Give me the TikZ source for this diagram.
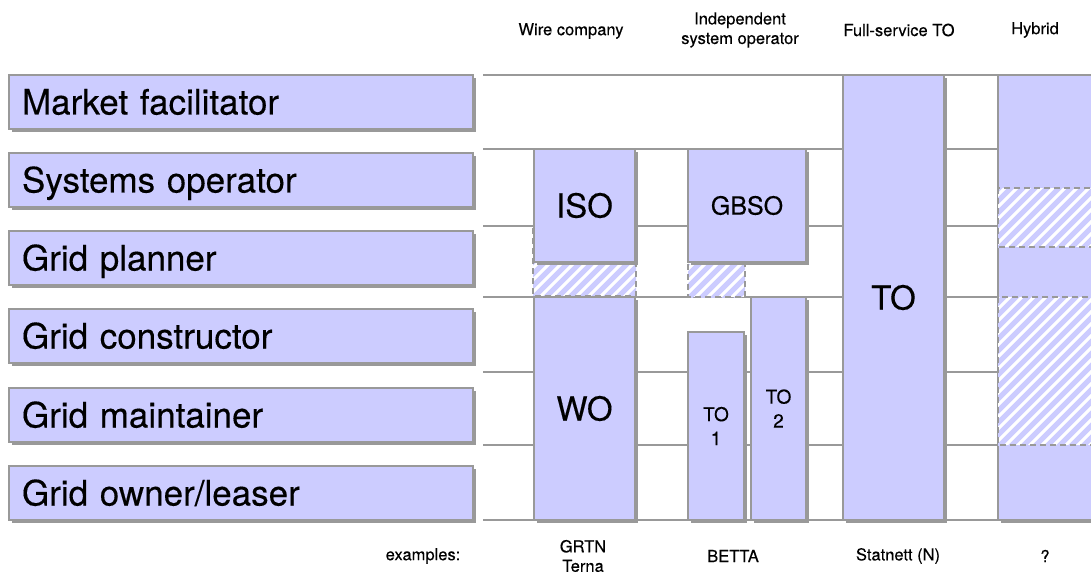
\documentclass[tikz,border=0pt]{standalone}
\usepackage{fontspec}
\setmainfont[FakeBold=0.3]{TeX Gyre Heros}
\usetikzlibrary{shadows}
\definecolor{lav}{HTML}{CCCCFF}
\definecolor{edge}{HTML}{999999}
% striped area with a dashed outline: \hatchbox{x1}{y1}{x2}{y2}
\newcommand\hatchbox[4]{%
  \begin{scope}
    \clip (#1,#2) rectangle (#3,#4);
    \fill[white] (#1,#2) rectangle (#3,#4);
    \foreach \k in {-260,-248,...,120}
      \draw[lav, line width=5pt] ({#1+\k},{#4+10}) -- ++(300,-300);
  \end{scope}
  \draw[edge, line width=1.8pt, dash pattern=on 6pt off 4pt] (#1,#2) rectangle (#3,#4);
}
\begin{document}
\begin{tikzpicture}[x=1pt,y=-1pt,
  box/.style={rectangle, fill=lav, draw=edge, line width=1.4pt, inner sep=0pt, outer sep=0pt,
    anchor=north west,
    drop shadow={shadow xshift=3pt, shadow yshift=-3pt, fill=edge, opacity=1}},
  role/.style={box, minimum width=464pt, minimum height=54pt, text width=438pt, align=left,
    font=\fontsize{35}{37}\selectfont, text height=25pt, text depth=0pt},
  grid/.style={draw=edge, line width=1.6pt},
  head/.style={font=\fontsize{16.5}{19.5}\selectfont, align=center},
  big/.style={font=\fontsize{33}{36}\selectfont},
  small/.style={font=\fontsize{19}{24}\selectfont, align=center},
]
\useasboundingbox (0,0) rectangle (1091,572);
\clip (0,0) rectangle (1091,572);

% horizontal separators of the role rows
\foreach \yy in {75,149,226,297,372,445,520}
  \draw[grid] (483,\yy) -- (1091,\yy);

% role labels
\node[role] (mf) at (9,75)  {Market facilitator};
\node[role] (so) at (9,153) {Systems operator};
\node[role] (gp) at (9,231) {Grid planner};
\node[role] (gc) at (9,309) {Grid constructor};
\node[role] (gm) at (9,388) {Grid maintainer};
\node[role] (go) at (9,466) {Grid owner/leaser};

% column headings
\node[head] (h1) at (571,31) {Wire company};
\node[head] (h2) at (740,30) {Independent\\system operator};
\node[head] (h3) at (899,30) {Full-service TO};
\node[head] (h4) at (1035,30) {Hybrid};

% wire company
\hatchbox{533}{228}{636}{296}
\node[box, minimum width=101pt, minimum height=113pt, big] (iso) at (534,149) {ISO};
\node[box, minimum width=101pt, minimum height=223pt, big] (wo) at (534,297) {WO};

% independent system operator
\hatchbox{688}{264}{745}{297}
\node[box, minimum width=118pt, minimum height=113pt, font=\fontsize{25}{28}\selectfont] (gbso) at (688,149) {GBSO};
\node[box, minimum width=56pt, minimum height=188pt, small] (to1) at (688,332) {TO\\1};
\node[box, minimum width=55pt, minimum height=223pt, small] (to2) at (751,297) {TO\\2};

% full-service TO
\node[box, minimum width=101pt, minimum height=445pt, big] (to) at (843,75) {TO};

% hybrid
\node[box, minimum width=110pt, minimum height=445pt] (hy) at (998,75) {};
\hatchbox{998}{188}{1100}{247}
\hatchbox{998}{297}{1100}{445}

% examples
\node[head] (ex) at (423,556) {examples:};
\node[head] (e1) at (583,556) {GRTN\\Terna};
\node[head] (e2) at (733,556) {BETTA};
\node[head] (e3) at (898,556) {Statnett (N)};
\node[head] (e4) at (1045,556) {?};
\end{tikzpicture}
\end{document}
